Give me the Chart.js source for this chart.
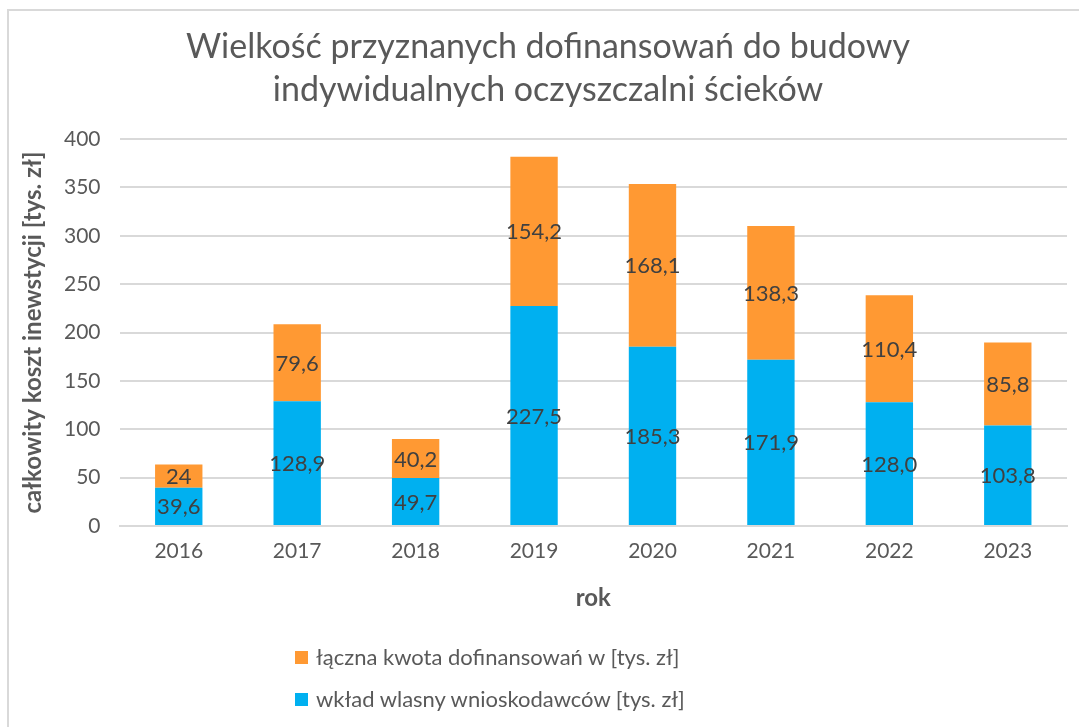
<!DOCTYPE html>
<html lang="pl">
<head>
  <meta charset="UTF-8">
  <title>Wielkość przyznanych dofinansowań</title>
  <script src="https://cdn.jsdelivr.net/npm/chart.js"></script>
  <style>
    html, body {
      margin: 0;
      padding: 0;
      background: #fff;
    }
    .wrap {
      position: relative;
      width: 1079px;
      height: 727px;
      overflow: hidden;
    }
    .frame {
      position: absolute;
      left: 7px;
      top: 9px;
      width: 1200px;
      height: 800px;
      border-left: 2px solid #D9D9D9;
      border-top: 2px solid #D9D9D9;
    }
    canvas {
      position: absolute;
      left: 0;
      top: 0;
    }
    #title {
      position: absolute;
      left: 0;
      top: 23px;
      width: 1096px;
      text-align: center;
      font-family: Lato, sans-serif;
      font-size: 34px;
      line-height: 43px;
      color: #595959;
    }
    #legend {
      position: absolute;
      left: 295px;
      top: 638px;
      font-family: Lato, sans-serif;
      font-size: 22px;
      color: #595959;
    }
    #legend div {
      height: 42px;
      line-height: 38px;
      white-space: nowrap;
    }
    #legend span.box {
      display: inline-block;
      width: 13px;
      height: 13px;
      margin-right: 8px;
      vertical-align: 1px;
    }
  </style>
</head>
<body>
  <div class="wrap">
    <div class="frame"></div>
    <canvas id="chart" width="1079" height="727"></canvas>
    <div id="title">Wielkość przyznanych dofinansowań do budowy<br>indywidualnych oczyszczalni ścieków</div>
    <div id="legend"></div>
  </div>

  <script>
    // dane
    const years = ['2016', '2017', '2018', '2019', '2020', '2021', '2022', '2023'];
    const wkladWlasny = [39.6, 128.9, 49.7, 227.5, 185.3, 171.9, 128.0, 103.8];
    const dofinansowanie = [24, 79.6, 40.2, 154.2, 168.1, 138.3, 110.4, 85.8];
    const wkladLabels = ['39,6', '128,9', '49,7', '227,5', '185,3', '171,9', '128,0', '103,8'];
    const dofLabels = ['24', '79,6', '40,2', '154,2', '168,1', '138,3', '110,4', '85,8'];
    const yTicks = [0, 50, 100, 150, 200, 250, 300, 350, 400];

    const gray = '#595959';

    // etykiety danych na środku segmentów
    const barLabels = {
      id: 'barLabels',
      afterDatasetsDraw(chart) {
        const ctx = chart.ctx;
        ctx.save();
        ctx.font = '22px Lato';
        ctx.fillStyle = '#404040';
        ctx.textAlign = 'center';
        ctx.textBaseline = 'middle';
        chart.data.datasets.forEach((ds, i) => {
          const meta = chart.getDatasetMeta(i);
          meta.data.forEach((bar, j) => {
            const p = bar.getProps(['x', 'y', 'base'], true);
            ctx.fillText(ds.labelsText[j], p.x, (p.y + p.base) / 2 + 1);
          });
        });
        ctx.restore();
      }
    };

    const chart = new Chart(document.getElementById('chart'), {
      type: 'bar',
      data: {
        labels: years,
        datasets: [
          {
            label: 'wkład wlasny wnioskodawców [tys. zł]',
            data: wkladWlasny,
            labelsText: wkladLabels,
            backgroundColor: '#00B0F0'
          },
          {
            label: 'łączna kwota dofinansowań w [tys. zł]',
            data: dofinansowanie,
            labelsText: dofLabels,
            backgroundColor: '#FF9933'
          }
        ]
      },
      options: {
        responsive: false,
        animation: false,
        categoryPercentage: 1,
        barPercentage: 0.4,
        layout: {
          padding: { left: 5, right: 12, top: 139, bottom: 110 }
        },
        plugins: {
          legend: { display: false },
          tooltip: { enabled: false },
          title: { display: false }
        },
        scales: {
          x: {
            stacked: true,
            grid: { display: false },
            border: { color: '#D9D9D9', width: 2 },
            ticks: {
              color: gray,
              font: { family: 'Lato', size: 21 },
              padding: 5
            },
            title: {
              display: true,
              text: 'rok',
              color: gray,
              font: { family: 'Lato', size: 24, weight: 'bold' },
              padding: { top: 15 }
            }
          },
          y: {
            stacked: true,
            min: 0,
            max: 400,
            afterBuildTicks(axis) {
              axis.ticks = yTicks.map(v => ({ value: v }));
            },
            grid: { color: '#D9D9D9', lineWidth: 2, drawTicks: false },
            border: { display: false },
            ticks: {
              color: gray,
              font: { family: 'Lato', size: 21 },
              padding: 19
            },
            title: {
              display: true,
              text: 'całkowity koszt inewstycji [tys. zł]',
              color: gray,
              font: { family: 'Lato', size: 24, weight: 'bold', lineHeight: 1 },
              padding: { top: 16, bottom: 0 }
            }
          }
        }
      },
      plugins: [barLabels]
    });

    // legenda w kolumnie, od góry: dofinansowanie, wkład własny
    const legend = document.getElementById('legend');
    chart.data.datasets.slice().reverse().forEach(ds => {
      const row = document.createElement('div');
      const box = document.createElement('span');
      box.className = 'box';
      box.style.background = ds.backgroundColor;
      row.appendChild(box);
      row.appendChild(document.createTextNode(ds.label));
      legend.appendChild(row);
    });
  </script>
</body>
</html>
